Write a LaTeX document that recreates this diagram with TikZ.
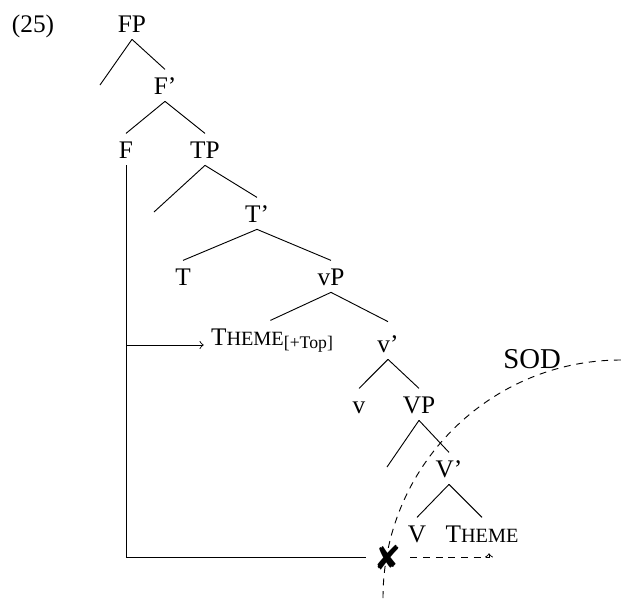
\documentclass[tikz,border=0pt]{standalone}
\usepackage{amsmath}
\usepackage{fontspec}
\setmainfont{Liberation Serif}
\usepackage{pifont}
\usetikzlibrary{arrows}

\newcommand{\fsc}[1]{{\fontsize{8.8}{10}\selectfont #1}}

\begin{document}
\begin{tikzpicture}[x=0.4348pt, y=-0.4348pt, inner sep=0pt, font=\fontsize{11}{13}\selectfont]
    \tikzstyle{cat}=[anchor=base, inner xsep=2pt, inner ysep=3pt, text height=7.5pt, text depth=0pt]
    \tikzstyle{mv}=[->, >=to, shorten >=1pt]
    \tikzstyle{sod}=[dash pattern=on 3pt off 2.5pt]

    \useasboundingbox (0,0) rectangle (621,598);

    \node[anchor=base] (ex) at (33,32) {(25)};

    % the tree
    \node[cat] (FP) at (132,32) {FP};
    \node[cat] (F1) at (165,94) {F'};
    \node[cat] (F) at (126,158) {F};
    \node[cat] (TP) at (205,158) {TP};
    \node[cat] (T1) at (257,222) {T'};
    \node[cat] (T) at (183,285) {T};
    \node[cat] (vP) at (331,285) {vP};
    \node[cat, anchor=base west] (ThTop) at (206,345) {T\fsc{HEME}\textsubscript{[+Top]}};
    \node[cat] (v1) at (388,352) {v'};
    \node[cat] (v) at (359,413) {v};
    \node[cat] (VP) at (419,413) {VP};
    \node[cat] (V1) at (449,477) {V'};
    \node[cat] (V) at (417,542) {V};
    \node[cat] (Th) at (482,542) {T\fsc{HEME}};

    \coordinate (FPspec) at (100,85);
    \coordinate (TPspec) at (154,212);
    \coordinate (VPspec) at (387,467);

    \draw (FP.south) -- (FPspec);
    \draw (FP.south) -- (F1.north);
    \draw (F1.south) -- (F.north);
    \draw (F1.south) -- (TP.north);
    \draw (TP.south) -- (TPspec);
    \draw (TP.south) -- (T1.north);
    \draw (T1.south) -- (T.north);
    \draw (T1.south) -- (vP.north);
    \draw (vP.south) -- ([xshift=28pt] ThTop.north west);
    \draw (vP.south) -- ([yshift=2.5pt] v1.north);
    \draw (v1.south) -- (v.north);
    \draw (v1.south) -- (VP.north);
    \draw (VP.south) -- (VPspec);
    \draw (VP.south) -- (V1.north);
    \draw (V1.south) -- (V.north);
    \draw (V1.south) -- (Th.north);

    % movement
    \node[inner xsep=4.5pt, font=\fontsize{15}{15}\selectfont] (X) at (388,557) {\ding{56}};
    \coordinate (land) at (489,551);
    \draw (F.south) -- (F.south |- X) -- (X.west);
    \draw[mv] (F.south |- ThTop.base) -- (ThTop.base west);
    \draw[mv, sod] (X.east) -| (land);

    % spell-out domain
    \node[anchor=base west, font=\fontsize{12.5}{14}\selectfont] (SOD) at (503,368) {SOD};
    \draw[sod] (383,598) arc[start angle=180, end angle=270, radius=238];
\end{tikzpicture}
\end{document}
